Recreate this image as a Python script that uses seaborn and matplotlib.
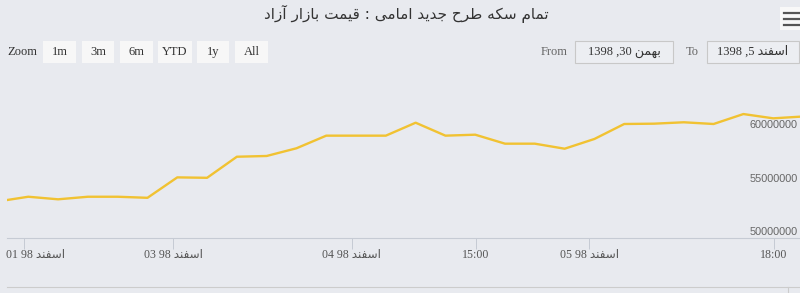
import matplotlib
matplotlib.use("Agg")
import matplotlib.pyplot as plt
import matplotlib.patches as mpatches
import matplotlib.transforms as mtransforms
import seaborn as sns
from itertools import groupby

# ---------------- data ----------------
title_text = "تمام سکه طرح جدید امامی : قیمت بازار آزاد"
point_index = list(range(28))
prices = [53380000, 53810000, 53570000, 53810000, 53810000, 53710000,
          55620000, 55580000, 57550000, 57620000, 58340000, 59520000,
          59520000, 59520000, 60730000, 59520000, 59610000, 58770000,
          58770000, 58300000, 59210000, 60610000, 60640000, 60770000,
          60610000, 61540000, 61140000, 61310000]
x_tick_labels = ["01 98 اسفند", "03 98 اسفند", "04 98 اسفند", "15:00",
                 "05 98 اسفند", "18:00"]
x_tick_pos = [0.87, 5.86, 11.86, 16.03, 19.82, 26.03]
y_ticks = [50000000, 55000000, 60000000]
y_tick_labels = ["50000000", "55000000", "60000000"]
zoom_buttons = ["1m", "3m", "6m", "YTD", "1y", "All"]
date_from = "بهمن 30, 1398"
date_to = "اسفند 5, 1398"

# ---------------- minimal Persian shaping ----------------
FORMS = {
    '\u0627': ('\uFE8D', '\uFE8E', None, None),
    '\u0622': ('\uFE81', '\uFE82', None, None),
    '\u0628': ('\uFE8F', '\uFE90', '\uFE91', '\uFE92'),
    '\u062A': ('\uFE95', '\uFE96', '\uFE97', '\uFE98'),
    '\u062C': ('\uFE9D', '\uFE9E', '\uFE9F', '\uFEA0'),
    '\u062D': ('\uFEA1', '\uFEA2', '\uFEA3', '\uFEA4'),
    '\u062F': ('\uFEA9', '\uFEAA', None, None),
    '\u0631': ('\uFEAD', '\uFEAE', None, None),
    '\u0632': ('\uFEAF', '\uFEB0', None, None),
    '\u0633': ('\uFEB1', '\uFEB2', '\uFEB3', '\uFEB4'),
    '\u0637': ('\uFEC1', '\uFEC2', '\uFEC3', '\uFEC4'),
    '\u0641': ('\uFED1', '\uFED2', '\uFED3', '\uFED4'),
    '\u0642': ('\uFED5', '\uFED6', '\uFED7', '\uFED8'),
    '\u0645': ('\uFEE1', '\uFEE2', '\uFEE3', '\uFEE4'),
    '\u0646': ('\uFEE5', '\uFEE6', '\uFEE7', '\uFEE8'),
    '\u0647': ('\uFEE9', '\uFEEA', '\uFEEB', '\uFEEC'),
    '\u06A9': ('\uFB8E', '\uFB8F', '\uFB90', '\uFB91'),
    '\u06CC': ('\uFBFC', '\uFBFD', '\uFBFE', '\uFBFF'),
}


def is_ar(c):
    return c in FORMS or '\u0600' <= c <= '\u06FF' or '\uFB50' <= c <= '\uFEFF'


def dual(c):
    return c in FORMS and FORMS[c][2] is not None


def shape(s):
    out = []
    for i, c in enumerate(s):
        if c not in FORMS:
            out.append(c)
            continue
        prev = s[i - 1] if i > 0 else ''
        nxt = s[i + 1] if i + 1 < len(s) else ''
        jp = dual(prev)
        jn = dual(c) and nxt in FORMS
        f = FORMS[c]
        if jp and jn:
            out.append(f[3])
        elif jp:
            out.append(f[1])
        elif jn:
            out.append(f[2])
        else:
            out.append(f[0])
    return ''.join(out)


def visual_rtl(s):
    sh = shape(s)
    groups = [''.join(g) if k else ''.join(g)[::-1]
              for k, g in groupby(sh, key=str.isdigit)]
    return ''.join(groups[::-1])


def visual_ltr(s):
    sh = shape(s)
    return ''.join(''.join(g)[::-1] if k else ''.join(g)
                   for k, g in groupby(sh, key=is_ar))


# ---------------- style ----------------
bg = '#e8eaef'
line_color = '#f1c232'
axis_color = '#c6cbd4'
W, H = 800, 293
serif = ['Liberation Serif', 'DejaVu Sans']
sans = ['DejaVu Sans']

fig = plt.figure(figsize=(W / 100, H / 100), dpi=100, facecolor=bg)


def fx(x):
    return x / W


def fy(y):
    return 1 - y / H


ax = fig.add_axes([fx(7), fy(237.5), (W - 7) / W, (237.5 - 75) / H])
ax.set_facecolor(bg)
sns.lineplot(x=point_index, y=prices, ax=ax, color=line_color, linewidth=1.7)
ax.set_xlim(0.285, 26.9)
ax.set_ylim(50000000, 65190000)
for s in ['top', 'right', 'left']:
    ax.spines[s].set_visible(False)
ax.spines['bottom'].set_color(axis_color)
ax.spines['bottom'].set_linewidth(0.8)
ax.set_xlabel('')
ax.set_ylabel('')
ax.set_yticks([])
ax.set_xticks(x_tick_pos)
ax.set_xticklabels([visual_ltr(t) for t in x_tick_labels],
                   fontfamily=serif, fontsize=8.6, color='#555555')
ax.tick_params(axis='x', length=7.9, width=0.72, color=axis_color, pad=0.5)
ax.grid(False)
first = ax.get_xticklabels()[0]
first.set_transform(first.get_transform() +
                    mtransforms.ScaledTranslation(11.5 / 100, 0, fig.dpi_scale_trans))

# y labels (inside plot, right side, above gridline)
ytrans = mtransforms.blended_transform_factory(fig.transFigure, ax.transData) + \
    mtransforms.ScaledTranslation(0, 2.5 / 100, fig.dpi_scale_trans)
for v, lab in zip(y_ticks, y_tick_labels):
    ax.text(fx(798), v, lab, transform=ytrans, ha='right', va='baseline',
            fontfamily=['Liberation Sans'], fontsize=7.8, color='#666666',
            clip_on=False)

# ---------------- header ----------------
fig.text(fx(406), fy(14), visual_rtl(title_text), ha='center', va='center',
         fontfamily=sans, fontsize=11, color='#333333')

fig.text(fx(7), fy(52), "Zoom", ha='left', va='center', fontfamily=serif,
         fontsize=9, color='#333333')
btn_x = [43, 82, 120, 158, 197, 235]
btn_w = [33, 32, 33, 34, 32, 33]
for bx, bw, lab in zip(btn_x, btn_w, zoom_buttons):
    fig.patches.append(mpatches.Rectangle((fx(bx), fy(63)), bw / W, 22 / H,
                                          transform=fig.transFigure,
                                          facecolor='#f7f7f7', edgecolor='none'))
    fig.text(fx(bx + bw / 2), fy(52), lab, ha='center', va='center',
             fontfamily=serif, fontsize=9, color='#333333')

fig.text(fx(541), fy(52), "From", ha='left', va='center', fontfamily=serif,
         fontsize=9, color='#666666')
fig.text(fx(686), fy(52), "To", ha='left', va='center', fontfamily=serif,
         fontsize=9, color='#666666')
for bx, bw, lab in [(575, 98, date_from), (707, 92, date_to)]:
    fig.patches.append(mpatches.Rectangle((fx(bx), fy(63)), bw / W, 22 / H,
                                          transform=fig.transFigure,
                                          facecolor='#eceef2', edgecolor='#c8c8c8',
                                          linewidth=0.8))
    fig.text(fx(bx + bw / 2), fy(52), visual_rtl(lab), ha='center', va='center',
             fontfamily=serif, fontsize=9, color='#333333')

# menu icon
fig.patches.append(mpatches.Rectangle((fx(780), fy(30)), 20 / W, 23 / H,
                                      transform=fig.transFigure,
                                      facecolor='#f8f8f8', edgecolor='none'))
for ly in [13, 19, 25]:
    fig.lines.append(plt.Line2D([fx(784), fx(800)], [fy(ly), fy(ly)],
                                transform=fig.transFigure, color='#555555',
                                linewidth=1.6))

# navigator top line
fig.lines.append(plt.Line2D([fx(7), fx(800)], [fy(287), fy(287)],
                            transform=fig.transFigure, color='#cccccc',
                            linewidth=0.8))
fig.lines.append(plt.Line2D([fx(788), fx(788)], [fy(287), fy(293)],
                            transform=fig.transFigure, color='#cccccc',
                            linewidth=0.8))

fig.savefig('out.png', dpi=100, facecolor=bg)
